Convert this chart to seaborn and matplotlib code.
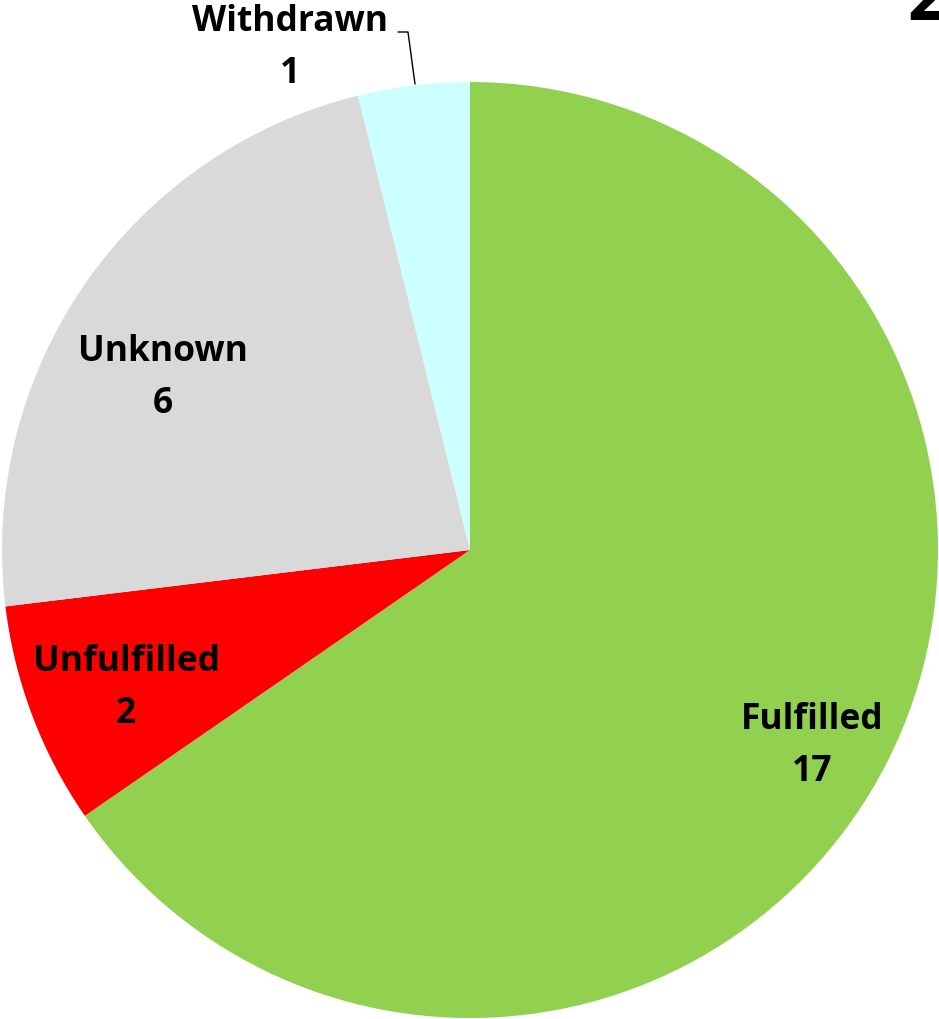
import matplotlib
matplotlib.use("Agg")
import matplotlib.pyplot as plt
import seaborn as sns

# Data
categories = ["Fulfilled", "Unfulfilled", "Unknown", "Withdrawn"]
counts = [17, 2, 6, 1]
colors = ["#92D050", "#FF0000", "#D9D9D9", "#CCFFFF"]

# label positions in pixels of the reference (x, y of label centre)
label_px = [(812, 720), (126, 662), (163, 352), (290, 22)]

sns.set_theme(style="white")
plt.rcParams["font.family"] = ["Open Sans", "DejaVu Sans"]

W, H = 939, 1019
fig = plt.figure(figsize=(W / 100, H / 100), dpi=100)
cx, cy, r = 470, 550, 468
ax = fig.add_axes([(cx - r) / W, (H - cy - r) / H, 2 * r / W, 2 * r / H])

ax.pie(counts, colors=colors, startangle=90, counterclock=False,
       wedgeprops=dict(linewidth=0))
ax.set_xlim(-1, 1)
ax.set_ylim(-1, 1)
ax.set_aspect("equal")
ax.axis("off")


def to_data(px, py):
    return (px - cx) / r, (cy - py) / r


for name, n, (px, py) in zip(categories, counts, label_px):
    x, y = to_data(px, py)
    ax.text(x, y, name, ha="center", va="center", fontsize=25.5,
            fontweight="bold", color="black", clip_on=False)
    x2, y2 = to_data(px, py + 52)
    ax.text(x2, y2, str(n), ha="center", va="center", fontsize=25.5,
            fontweight="bold", color="black", clip_on=False)

# leader line for Withdrawn
pts = [(398, 32), (408, 32), (415, 84)]
ax.plot([to_data(*p)[0] for p in pts], [to_data(*p)[1] for p in pts],
        color="black", linewidth=1, clip_on=False)

# partly visible title digit at top right
fig.text(907 / W, 1 - 20 / H, "2", ha="left", va="baseline", fontsize=50,
         fontweight="bold", color="black")

fig.savefig("out.png", dpi=100)
